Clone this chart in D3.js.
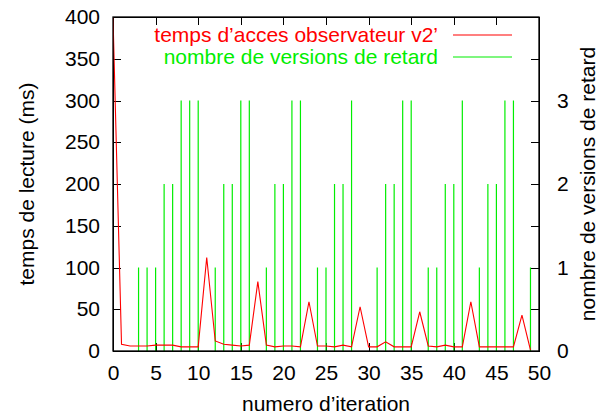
<!DOCTYPE html>
<html lang="fr">
<head>
<meta charset="UTF-8">
<title>temps de lecture</title>
<script src="https://cdn.jsdelivr.net/npm/d3@7"></script>
<style>
    body { margin: 0; background: #fff; }
    text { font-family: "Liberation Sans", Arial, sans-serif; }
    .axis path, .axis line { stroke: #000; shape-rendering: crispEdges; }
</style>
</head>
<body>
<script>
    // iterations 0..49
    var iterations = d3.range(50);
    // temps d'acces observateur v2' (ms)
    var tempsAcces = [400, 8, 6, 6, 6, 7, 7, 7, 5, 5,
        5, 112, 12, 8, 7, 6, 7, 83, 7, 5,
        6, 6, 5, 59, 6, 6, 5, 7, 5, 53,
        5, 5, 11, 5, 5, 5, 47, 6, 5, 7,
        5, 5, 59, 5, 5, 5, 5, 5, 43, 1];
    // nombre de versions de retard
    var versionsRetard = [0, 0, 0, 1, 1, 1, 2, 2, 3, 3,
        3, 0, 1, 2, 2, 3, 3, 0, 1, 2,
        2, 3, 3, 0, 1, 1, 2, 2, 3, 0,
        0, 1, 2, 2, 3, 3, 0, 1, 1, 2,
        2, 3, 0, 1, 2, 2, 3, 3, 0, 1];
    var xTicks = [0, 5, 10, 15, 20, 25, 30, 35, 40, 45, 50];
    var yTicks = [0, 50, 100, 150, 200, 250, 300, 350, 400];
    var y2Ticks = [0, 1, 2, 3];

    var W = 601, H = 417;
    var margin = {top: 17, right: 62, bottom: 66, left: 113},
        width = W - margin.left - margin.right,
        height = H - margin.top - margin.bottom;

    var x = d3.scaleLinear().domain([0, 50]).range([0, width]);
    var y = d3.scaleLinear().domain([0, 400]).range([height, 0]);
    var y2 = d3.scaleLinear().domain([0, 4]).range([height, 0]);

    var svg = d3.select("body").append("svg")
        .attr("width", W).attr("height", H)
        .append("g")
        .attr("transform", "translate(" + margin.left + "," + margin.top + ")");

    svg.append("defs").append("clipPath").attr("id", "clip")
        .append("rect").attr("width", width).attr("height", height);

    var fs = "21px";

    // axes (ticks inward)
    svg.append("g").attr("class", "axis")
        .attr("transform", "translate(0," + height + ")")
        .call(d3.axisBottom(x).tickValues(xTicks).tickSizeInner(-8).tickSizeOuter(0).tickPadding(14));
    svg.append("g").attr("class", "axis")
        .call(d3.axisTop(x).tickValues(xTicks).tickSizeInner(-8).tickSizeOuter(0).tickFormat(""));
    svg.append("g").attr("class", "axis")
        .call(d3.axisLeft(y).tickValues(yTicks).tickSizeInner(-8).tickSizeOuter(0).tickPadding(13));
    svg.append("g").attr("class", "axis")
        .attr("transform", "translate(" + width + ",0)")
        .call(d3.axisRight(y).tickValues(yTicks).tickSizeInner(-8).tickSizeOuter(0).tickFormat(""));
    svg.append("g").attr("class", "axis")
        .attr("transform", "translate(" + width + ",0)")
        .call(d3.axisRight(y2).tickValues(y2Ticks).tickFormat(d3.format("d"))
            .tickSizeInner(-8).tickSizeOuter(0).tickPadding(18));

    svg.selectAll(".axis text").style("font-size", fs).attr("fill", "#000");
    svg.selectAll(".axis .domain").attr("stroke-width", 1.3);

    // impulses
    var plot = svg.append("g").attr("clip-path", "url(#clip)");
    plot.selectAll("line.imp")
        .data(iterations.filter(function (i) { return versionsRetard[i] > 0; }))
        .enter().append("line")
        .attr("class", "imp")
        .attr("x1", function (i) { return x(i); })
        .attr("x2", function (i) { return x(i); })
        .attr("y1", y2(0))
        .attr("y2", function (i) { return y2(versionsRetard[i]); })
        .attr("stroke", "#00ee00")
        .attr("stroke-width", 1.2);

    var line = d3.line()
        .x(function (i) { return x(i); })
        .y(function (i) { return y(tempsAcces[i]); });
    plot.append("path")
        .datum(iterations)
        .attr("d", line)
        .attr("fill", "none")
        .attr("stroke", "#ff0000")
        .attr("stroke-width", 1.1);

    // border
    svg.append("rect").attr("width", width).attr("height", height)
        .attr("fill", "none").attr("stroke", "#000").attr("stroke-width", 1.3);

    // legend
    var legend = [
        {label: "temps d\u2019acces observateur v2\u2019", color: "#ff0000"},
        {label: "nombre de versions de retard", color: "#00ee00"}
    ];
    var lg = svg.selectAll(".leg").data(legend).enter().append("g")
        .attr("transform", function (d, i) { return "translate(0," + (18 + i * 22) + ")"; });
    lg.append("text")
        .attr("x", 325).attr("dy", "0.35em")
        .attr("text-anchor", "end")
        .style("font-size", fs)
        .attr("fill", function (d) { return d.color; })
        .text(function (d) { return d.label; });
    lg.append("line")
        .attr("x1", 340).attr("x2", 399)
        .attr("stroke", function (d) { return d.color; })
        .attr("stroke-width", 1.1);

    // axis titles
    svg.append("text")
        .attr("transform", "translate(" + (-86) + "," + (height / 2) + ") rotate(-90)")
        .attr("text-anchor", "middle").attr("dy", "0.35em")
        .style("font-size", fs).text("temps de lecture (ms)");
    svg.append("text")
        .attr("x", width / 2).attr("y", height + 60)
        .attr("text-anchor", "middle")
        .style("font-size", fs).text("numero d\u2019iteration");
    svg.append("text")
        .attr("transform", "translate(" + (width + 49) + "," + (height / 2) + ") rotate(-90)")
        .attr("text-anchor", "middle").attr("dy", "0.35em")
        .style("font-size", fs).text("nombre de versions de retard");
</script>
</body>
</html>
